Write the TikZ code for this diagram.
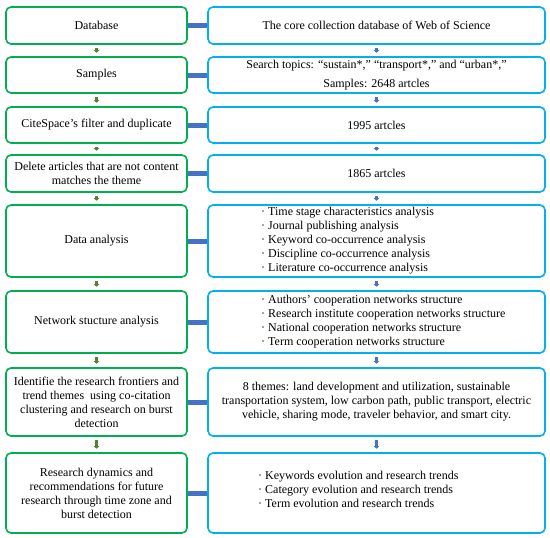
\documentclass[tikz,border=0pt]{standalone}
\usepackage{fontspec}
\setmainfont{Liberation Serif}
\usepackage{xcolor}
\usepackage{tikz}
\usetikzlibrary{arrows.meta}

\definecolor{stepgreen}{RGB}{0,176,80}
\definecolor{infoblue}{RGB}{0,176,240}
\definecolor{linkblue}{RGB}{68,114,196}
\definecolor{flowgreen}{RGB}{84,130,53}

\begin{document}
\begin{tikzpicture}[x=1pt, y=-1pt,
    every node/.style={font=\fontsize{12}{14}\selectfont},
    stepbox/.style={draw=stepgreen, line width=1.6pt, rounded corners=5pt,
        minimum width=181pt, inner sep=0pt, align=center},
    infobox/.style={draw=infoblue, line width=1.6pt, rounded corners=5pt,
        minimum width=337pt, inner sep=0pt, align=center},
    listtext/.style={anchor=west, align=left, inner sep=0pt},
    linkbar/.style={draw=linkblue, line width=5pt},
    stepflow/.style={draw=flowgreen, line width=3pt, -{Triangle[width=5.5pt,length=2.5pt]},
        shorten <=3.5pt, shorten >=3.5pt},
    infoflow/.style={stepflow, draw=linkblue}]
    \useasboundingbox (0,0) rectangle (550,538);

    % left column
    \node[stepbox, minimum height=37pt] (l1) at (96.5,25.5) {Database};
    \node[stepbox, minimum height=36pt] (l2) at (96.5,75) {Samples};
    \node[stepbox, minimum height=36pt] (l3) at (96.5,125) {CiteSpace’s filter and duplicate};
    \node[stepbox, minimum height=37pt] (l4) at (96.5,173.5) {Delete articles that are not content\\matches the theme};
    \node[stepbox, minimum height=72pt] (l5) at (96.5,241) {Data analysis};
    \node[stepbox, minimum height=62pt] (l6) at (96.5,322) {Network stucture analysis};
    \node[stepbox, minimum height=68pt] (l7) at (96.5,402) {Identifie the research frontiers and\\trend themes \ using co-citation\\clustering and research on burst\\detection};
    \node[stepbox, minimum height=80pt] (l8) at (96.5,493) {Research dynamics and\\recommendations for future\\research through time zone and\\burst detection};

    % right column
    \node[infobox, minimum height=37pt] (r1) at (376.5,25.5) {The core collection database of Web of Science};
    \node[infobox, minimum height=36pt] (r2) at (376.5,75) {Search topics: “sustain*,” “transport*,” and “urban*,”\\[5pt]Samples: 2648 artcles};
    \node[infobox, minimum height=36pt] (r3) at (376.5,125) {1995 artcles};
    \node[infobox, minimum height=37pt] (r4) at (376.5,173.5) {1865 artcles};
    \node[infobox, minimum height=72pt] (r5) at (376.5,241) {};
    \node[infobox, minimum height=62pt] (r6) at (376.5,322) {};
    \node[infobox, minimum height=68pt] (r7) at (376.5,402) {8 themes: land development and utilization, sustainable\\transportation system, low carbon path, public transport, electric\\vehicle, sharing mode, traveler behavior, and smart city.};
    \node[infobox, minimum height=80pt] (r8) at (376.5,493) {};

    \node[listtext] (t5) at (261,241) {· Time stage characteristics analysis\\
        · Journal publishing analysis\\
        · Keyword co-occurrence analysis\\
        · Discipline co-occurrence analysis\\
        · Literature co-occurrence analysis};
    \node[listtext] (t6) at (261,321.5) {· Authors’ cooperation networks structure\\
        · Research institute cooperation networks structure\\
        · National cooperation networks structure\\
        · Term cooperation networks structure};
    \node[listtext] (t8) at (258,489.5) {· Keywords evolution and research trends\\
        · Category evolution and research trends\\
        · Term evolution and research trends};

    % links and flow arrows
    \foreach \i in {1,...,8} {
        \draw[linkbar] (l\i) -- (r\i);
    }
    \foreach \a/\b in {1/2,2/3,3/4,4/5,5/6,6/7,7/8} {
        \draw[stepflow] (l\a) -- (l\b);
        \draw[infoflow] (r\a) -- (r\b);
    }
\end{tikzpicture}
\end{document}
